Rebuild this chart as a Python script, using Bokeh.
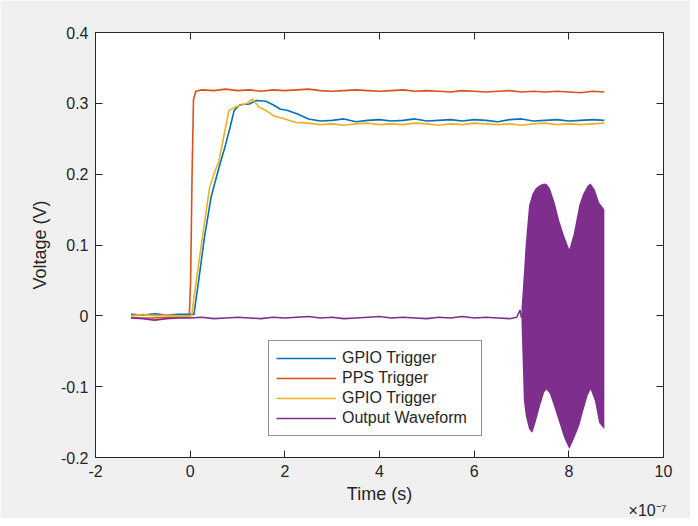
from bokeh.plotting import figure
from bokeh.models import (LinearAxis, Range1d, Legend, LegendItem, FixedTicker, Title,
                          CustomJSTickFormatter)
from bokeh.embed import file_html
from bokeh.resources import INLINE

# ---- data (time in units of 1e-7 s, voltage in V) ----
gpio1_t = [-1.25, -1.0, -0.75, -0.5, -0.25, 0.0, 0.08, 0.2, 0.3, 0.44, 0.55, 0.65, 0.75, 0.85,
           0.93, 1.05, 1.25, 1.4, 1.6, 1.75, 1.9, 2.06, 2.27,
           2.5, 2.75, 3.0, 3.25, 3.5, 3.75, 4.0, 4.25, 4.5, 4.75, 5.0, 5.25, 5.5, 5.75, 6.0,
           6.25, 6.5, 6.75, 7.0, 7.25, 7.5, 7.75, 8.0, 8.25, 8.5, 8.75]
gpio1_v = [0.002, 0.001, 0.003, 0.001, 0.002, 0.002, 0.002, 0.06, 0.11, 0.167, 0.195, 0.219,
           0.242, 0.268, 0.29, 0.298, 0.299, 0.304, 0.303, 0.298, 0.292, 0.29, 0.285,
           0.278, 0.275, 0.276, 0.278, 0.274, 0.276, 0.277, 0.275, 0.276, 0.278, 0.275, 0.276,
           0.277, 0.275, 0.277, 0.276, 0.274, 0.277, 0.278, 0.275, 0.276, 0.277, 0.275, 0.276,
           0.277, 0.276]

pps_t = [-1.25, -1.0, -0.75, -0.5, -0.25, -0.02, 0.01, 0.04, 0.07, 0.12,
         0.25, 0.5, 0.75, 1.0, 1.25, 1.5, 1.75, 2.0, 2.25, 2.5, 2.75, 3.0, 3.25, 3.5, 3.75,
         4.0, 4.25, 4.5, 4.75, 5.0, 5.25, 5.5, 5.75, 6.0, 6.25, 6.5, 6.75, 7.0, 7.25, 7.5,
         7.75, 8.0, 8.25, 8.5, 8.75]
pps_v = [-0.002, -0.003, -0.003, -0.002, -0.002, -0.002, 0.05, 0.2, 0.305, 0.317,
         0.319, 0.318, 0.320, 0.318, 0.319, 0.317, 0.319, 0.318, 0.319, 0.320, 0.318, 0.317,
         0.318, 0.319, 0.318, 0.317, 0.318, 0.319, 0.317, 0.318, 0.317, 0.316, 0.318, 0.317,
         0.316, 0.317, 0.318, 0.316, 0.317, 0.316, 0.317, 0.316, 0.315, 0.317, 0.316]

gpio2_t = [-1.25, -1.0, -0.75, -0.5, -0.25, 0.0, 0.03, 0.15, 0.3, 0.41, 0.5, 0.61, 0.7, 0.82,
           0.96, 1.1, 1.2, 1.32, 1.45, 1.6, 1.77, 1.95, 2.13, 2.25,
           2.5, 2.75, 3.0, 3.25, 3.5, 3.75, 4.0, 4.25, 4.5, 4.75, 5.0, 5.25, 5.5, 5.75, 6.0,
           6.25, 6.5, 6.75, 7.0, 7.25, 7.5, 7.75, 8.0, 8.25, 8.5, 8.75]
gpio2_v = [0.0, 0.002, 0.0, 0.001, 0.0, 0.0, 0.0, 0.06, 0.13, 0.181, 0.2, 0.219, 0.25, 0.29,
           0.295, 0.298, 0.3, 0.306, 0.295, 0.29, 0.282, 0.279, 0.275, 0.273,
           0.272, 0.270, 0.271, 0.269, 0.271, 0.272, 0.270, 0.271, 0.270, 0.272, 0.271, 0.269,
           0.271, 0.270, 0.272, 0.271, 0.270, 0.271, 0.269, 0.271, 0.272, 0.270, 0.271, 0.270,
           0.271, 0.272]

out_t = [-1.25, -1.0, -0.75, -0.5, -0.25, 0.0, 0.25, 0.5, 0.75, 1.0, 1.25, 1.5, 1.75, 2.0,
         2.25, 2.5, 2.75, 3.0, 3.25, 3.5, 3.75, 4.0, 4.25, 4.5, 4.75, 5.0, 5.25, 5.5, 5.75,
         6.0, 6.25, 6.5, 6.75, 6.9, 6.97, 7.0]
out_v = [-0.003, -0.004, -0.006, -0.004, -0.003, -0.003, -0.002, -0.004, -0.003, -0.002,
         -0.003, -0.004, -0.002, -0.003, -0.002, -0.001, -0.003, -0.002, -0.004, -0.003,
         -0.002, -0.001, -0.003, -0.002, -0.003, -0.004, -0.002, -0.003, -0.001, -0.003,
         -0.002, -0.003, -0.004, -0.002, 0.008, -0.003]

# burst envelope of the output waveform
burst_t = [7.0, 7.05, 7.09, 7.16, 7.23, 7.3, 7.4, 7.48, 7.53, 7.6, 7.7, 7.8, 7.9, 8.01, 8.1,
           8.22, 8.3, 8.4, 8.46, 8.55, 8.64, 8.75]
burst_hi = [0.01, 0.06, 0.103, 0.156, 0.172, 0.18, 0.185, 0.187, 0.186, 0.18, 0.16, 0.134,
            0.113, 0.094, 0.115, 0.156, 0.172, 0.184, 0.187, 0.178, 0.16, 0.15]
burst_lo = [-0.01, -0.12, -0.141, -0.16, -0.165, -0.15, -0.125, -0.108, -0.104, -0.11, -0.13,
            -0.151, -0.172, -0.188, -0.175, -0.155, -0.135, -0.112, -0.104, -0.12, -0.151,
            -0.16]

labels = ["GPIO Trigger", "PPS Trigger", "GPIO Trigger", "Output Waveform"]
colors = ["#0072BD", "#D95319", "#EDB120", "#7E2F8E"]
x_ticks = [-2, 0, 2, 4, 6, 8, 10]
x_tick_labels = ["-2", "0", "2", "4", "6", "8", "10"]
y_ticks = [-0.2, -0.1, 0, 0.1, 0.2, 0.3, 0.4]
y_tick_labels = ["-0.2", "-0.1", "0", "0.1", "0.2", "0.3", "0.4"]
x_exponent = "×10⁻⁷"

FONT = "Liberation Sans"
TXT = "#262626"

p = figure(width=690, height=518, output_backend="svg", toolbar_location=None,
           x_range=Range1d(-2, 10), y_range=Range1d(-0.2, 0.4),
           min_border_left=95, min_border_right=27, min_border_top=32, min_border_bottom=61,
           background_fill_color="white", border_fill_color="#f0f0f0")
p.grid.visible = False
p.outline_line_color = TXT

r1 = p.line(gpio1_t, gpio1_v, line_color=colors[0], line_width=1.6)
r2 = p.line(pps_t, pps_v, line_color=colors[1], line_width=1.6)
r3 = p.line(gpio2_t, gpio2_v, line_color=colors[2], line_width=1.6)
p.varea(x=burst_t, y1=burst_lo, y2=burst_hi, fill_color=colors[3], fill_alpha=1.0)
r4 = p.line(out_t, out_v, line_color=colors[3], line_width=1.6)

blank = CustomJSTickFormatter(code="return '';")

def style_axis(ax, show_labels=True):
    ax.axis_line_color = TXT
    ax.major_tick_line_color = TXT
    ax.minor_tick_line_color = None
    ax.major_tick_in = 7
    ax.major_tick_out = 0
    ax.major_label_text_font = FONT
    ax.major_label_text_color = TXT
    ax.major_label_text_font_size = "16px"
    ax.axis_label_text_font = FONT
    ax.axis_label_text_color = TXT
    ax.axis_label_text_font_style = "normal"
    ax.axis_label_text_font_size = "18px"
    if not show_labels:
        ax.formatter = blank
        ax.major_label_standoff = 0

xa = p.xaxis[0]
ya = p.yaxis[0]
xa.ticker = FixedTicker(ticks=x_ticks)
ya.ticker = FixedTicker(ticks=y_ticks)
xa.major_label_overrides = dict(zip(x_ticks, x_tick_labels))
ya.major_label_overrides = dict(zip(y_ticks, y_tick_labels))
xa.axis_label = "Time (s)"
ya.axis_label = "Voltage (V)"
xa.major_label_standoff = 7
ya.major_label_standoff = 7
xa.axis_label_standoff = 4
ya.axis_label_standoff = 8
style_axis(xa)
style_axis(ya)

top = LinearAxis(ticker=FixedTicker(ticks=x_ticks))
right = LinearAxis(ticker=FixedTicker(ticks=y_ticks))
style_axis(top, False)
style_axis(right, False)
p.add_layout(top, "above")
p.add_layout(right, "right")

legend = Legend(items=[LegendItem(label=labels[0], renderers=[r1]),
                       LegendItem(label=labels[1], renderers=[r2]),
                       LegendItem(label=labels[2], renderers=[r3]),
                       LegendItem(label=labels[3], renderers=[r4])],
                location=(173, 21), orientation="vertical")
legend.label_text_font = FONT
legend.label_text_font_size = "16px"
legend.label_text_color = TXT
legend.label_height = 20
legend.glyph_height = 20
legend.glyph_width = 60
legend.label_standoff = 6
legend.label_width = 132
legend.spacing = 0
legend.padding = 7
legend.margin = 0
legend.border_line_color = TXT
legend.border_line_width = 1
legend.background_fill_color = "white"
legend.background_fill_alpha = 1.0
p.add_layout(legend, "center")

exp_title = Title(text=x_exponent, align="right", text_font=FONT, text_font_size="16px",
                  text_color=TXT, text_font_style="normal", standoff=-14, offset=-3)
p.add_layout(exp_title, "below")

open("out.html", "w").write(file_html(p, INLINE))
